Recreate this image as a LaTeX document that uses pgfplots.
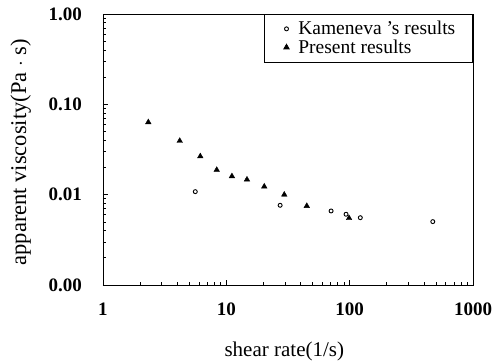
\documentclass[border=0pt]{standalone}
\usepackage{pgfplots}
\pgfplotsset{compat=1.18}
\usepackage{fontspec}
\setmainfont{Liberation Serif}
\begin{document}
\begin{tikzpicture}
\begin{axis}[
  at={(0,0)}, anchor=south west,
  scale only axis, width=370pt, height=271pt,
  xmode=log, ymode=log,
  xmin=1, xmax=1000, ymin=0.001, ymax=1,
  xtick={1,10,100,1000}, xticklabels={1,10,100,1000},
  ytick={0.001,0.01,0.1,1}, yticklabels={0.00,0.01,0.10,1.00},
  xtick pos=bottom, ytick pos=left,
  tick align=inside,
  major tick length=5pt, minor tick length=3.5pt,
  axis line style={line width=0.9pt},
  every tick/.style={black, line width=0.7pt},
  /pgf/number format/assume math mode=true,
  xticklabel style={font=\fontsize{19}{21}\selectfont\bfseries, anchor=north, inner sep=0pt, yshift=-18pt},
  yticklabel style={font=\fontsize{19}{21}\selectfont\bfseries, anchor=east, inner sep=0pt, xshift=-21pt},
  every axis x label/.style={at={(axis description cs:0.49,-0.247)}, anchor=center, font=\fontsize{21}{23}\selectfont},
  every axis y label/.style={at={(axis description cs:-0.222,0.49)}, rotate=90, anchor=center, font=\fontsize{22.5}{24}\selectfont},
  xlabel={shear rate(1/s)},
  ylabel={apparent viscosity(Pa $\cdot$ s)},
  legend style={at={(rel axis cs:1,1)}, anchor=north east, draw=black, line width=0.7pt,
    font=\fontsize{19.5}{20}\selectfont, row sep=3.5pt, inner xsep=14pt, inner ysep=7pt,
    nodes={inner xsep=0.333em, inner ysep=0pt}},
  legend cell align=left,
  legend image code/.code={\path (0pt,0pt) (16pt,0pt); \draw[#1] plot coordinates {(8pt,0pt)};},
]
\addplot[only marks, mark=o, mark size=2pt, line width=0.9pt, black] coordinates {
(5.6,0.0108) (27.3,0.00763) (70.7,0.00660) (93.5,0.00607) (122,0.00556) (472,0.00503)
};
\addlegendentry{Kameneva 's results}
\addplot[only marks, mark=triangle*, mark size=3.2pt, black] coordinates {
(2.33,0.0634) (4.19,0.0394) (6.15,0.0266) (8.36,0.0188) (11.1,0.0160) (14.7,0.0147)
(20.3,0.0123) (29.5,0.0100) (44.9,0.0075) (98.9,0.0055)
};
\addlegendentry{Present results}
\end{axis}
\pgfresetboundingbox
\useasboundingbox (-103pt,-79pt) rectangle (390pt,285pt);
\end{tikzpicture}
\end{document}
